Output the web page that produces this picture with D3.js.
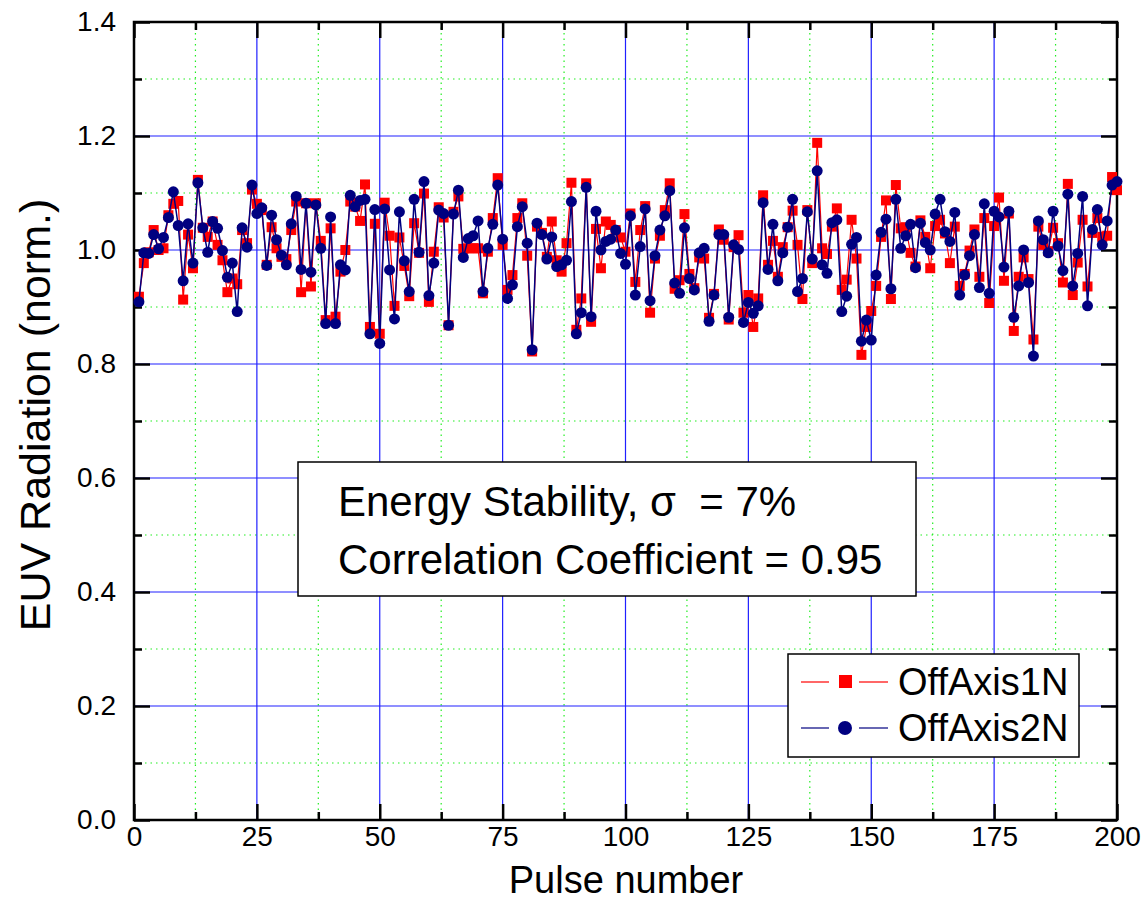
<!DOCTYPE html>
<html>
<head>
<meta charset="utf-8">
<script src="https://cdn.jsdelivr.net/npm/d3@7"></script>
<style>
  body { margin: 0; background: #fff; }
  svg text { font-family: "Liberation Sans", Arial, sans-serif; fill: #000; white-space: pre; }
</style>
</head>
<body>
<svg id="chart" width="1146" height="921"></svg>
<script>
// values, pulse 1..200
const offAxis1N = [
  0.918,0.977,0.996,1.035,1.000,1.003,1.061,1.081,1.086,0.913,
  1.027,0.968,1.123,1.039,1.023,1.050,1.009,0.982,0.926,0.950,
  0.940,1.035,1.012,1.106,1.081,1.070,0.974,1.040,1.003,0.988,
  0.984,1.035,1.085,0.926,1.082,0.936,1.082,1.016,0.877,1.038,
  0.883,0.962,1.000,1.085,1.076,1.051,1.115,0.865,1.046,0.853,
  1.083,1.025,0.902,1.022,0.972,0.919,1.047,0.995,1.099,0.909,
  0.997,1.075,1.057,0.868,1.067,1.094,1.002,1.003,1.003,1.003,
  0.924,0.997,1.056,1.126,1.009,0.930,0.956,1.056,1.082,0.990,
  0.822,1.041,1.030,0.988,1.050,0.982,0.962,1.012,1.118,0.860,
  0.915,1.117,0.874,1.037,0.968,1.050,1.044,1.035,1.022,0.997,
  1.064,0.944,1.035,1.077,0.890,0.985,1.025,1.070,1.117,0.932,
  0.947,1.063,0.958,0.933,0.987,0.985,0.881,0.923,1.036,1.018,
  0.878,1.005,1.026,0.890,0.921,0.865,0.915,1.096,0.974,1.016,
  0.953,1.005,1.040,1.069,1.009,0.914,1.070,0.977,1.188,1.003,
  0.993,1.041,1.073,0.930,0.948,1.053,0.985,0.816,0.865,0.893,
  0.937,1.023,1.087,0.914,1.114,1.038,1.040,0.995,0.971,1.052,
  1.023,0.968,1.042,1.053,1.029,0.977,1.041,0.937,0.958,0.999,
  1.036,0.953,1.056,0.907,1.042,1.092,0.946,1.064,0.858,0.953,
  0.987,0.949,0.843,1.041,1.009,0.998,1.039,1.012,0.943,1.116,
  0.921,0.978,1.053,0.936,1.030,1.056,1.023,1.025,1.128,1.105
];
const offAxis2N = [
  0.909,0.995,0.994,1.027,1.002,1.022,1.057,1.102,1.043,0.946,
  1.046,0.977,1.118,1.039,0.996,1.050,1.038,0.999,0.952,0.977,
  0.892,1.039,1.005,1.114,1.064,1.074,0.973,1.061,1.018,0.991,
  0.974,1.046,1.094,0.966,1.082,0.961,1.079,1.003,0.871,1.058,
  0.871,0.974,0.965,1.096,1.076,1.087,1.089,0.853,1.071,0.836,
  1.072,0.965,0.879,1.067,0.981,0.927,1.089,0.996,1.120,0.920,
  0.977,1.070,1.064,0.868,1.063,1.105,0.987,1.020,1.025,1.051,
  0.927,1.003,1.045,1.114,1.019,0.915,0.939,1.041,1.076,1.012,
  0.825,1.047,1.027,0.984,1.023,0.971,0.974,0.982,1.085,0.853,
  0.890,1.110,0.883,1.068,1.000,1.015,1.019,1.035,0.994,0.975,
  1.060,0.921,1.006,1.072,0.911,0.990,1.035,1.060,1.104,0.942,
  0.924,1.039,0.950,0.930,0.995,1.003,0.875,0.921,1.027,1.027,
  0.882,1.009,1.001,0.873,0.908,0.889,0.902,1.083,0.966,1.045,
  0.946,0.995,1.040,1.089,0.927,0.950,1.067,0.984,1.139,0.974,
  0.959,1.048,1.053,0.892,0.919,1.010,1.022,0.840,0.877,0.842,
  0.956,1.031,1.054,0.932,1.089,1.003,1.025,1.045,0.969,1.047,
  1.013,1.000,1.063,1.089,1.032,1.015,1.066,0.921,0.956,0.990,
  1.027,0.934,1.081,0.924,1.068,1.058,0.970,1.068,0.882,0.937,
  1.000,0.943,0.814,1.051,1.018,0.995,1.068,1.007,0.964,1.098,
  0.937,0.994,1.094,0.902,1.036,1.071,1.009,1.051,1.114,1.120
];
const xMajorTicks = [0, 25, 50, 75, 100, 125, 150, 175, 200];
const yMajorTicks = [0, 0.2, 0.4, 0.6, 0.8, 1.0, 1.2, 1.4];
const xMinorTicks = [12.5, 37.5, 62.5, 87.5, 112.5, 137.5, 162.5, 187.5];
const yMinorTicks = [0.1, 0.3, 0.5, 0.7, 0.9, 1.1, 1.3];
const seriesNames = ["OffAxis1N", "OffAxis2N"];
const infoLines = ["Energy Stability, \u03c3  = 7%", "Correlation Coefficient = 0.95"];

const svg = d3.select("#chart");
const plotL = 134, plotR = 1117, plotT = 22, plotB = 820;

let x = d3.scaleLinear().domain([0, 200]).range([plotL, plotR]);
let y = d3.scaleLinear().domain([0, 1.4]).range([plotB, plotT]);

// grid
let grid = svg.append("g");
grid.selectAll(".minorx").data(xMinorTicks).enter().append("line")
    .attr("x1", d => x(d)).attr("x2", d => x(d))
    .attr("y1", plotT).attr("y2", plotB)
    .style("stroke", "#22ee22").style("stroke-width", 1.2)
    .style("stroke-dasharray", "1.5,4");
grid.selectAll(".minory").data(yMinorTicks).enter().append("line")
    .attr("x1", plotL).attr("x2", plotR)
    .attr("y1", d => y(d)).attr("y2", d => y(d))
    .style("stroke", "#22ee22").style("stroke-width", 1.2)
    .style("stroke-dasharray", "1.5,4");
grid.selectAll(".majorx").data(xMajorTicks.slice(1, -1)).enter().append("line")
    .attr("x1", d => x(d)).attr("x2", d => x(d))
    .attr("y1", plotT).attr("y2", plotB)
    .style("stroke", "#2020ff").style("stroke-width", 1.2);
grid.selectAll(".majory").data(yMajorTicks.slice(1, -1)).enter().append("line")
    .attr("x1", plotL).attr("x2", plotR)
    .attr("y1", d => y(d)).attr("y2", d => y(d))
    .style("stroke", "#2020ff").style("stroke-width", 1.2);

// axes, ticks pointing inwards on all four sides
function styleAxis(g) {
    g.select(".domain").remove();
    g.selectAll(".tick line").style("stroke", "#000").style("stroke-width", 2.5);
    g.selectAll(".tick text").style("font-size", "28px");
}
svg.append("g").attr("transform", `translate(${plotL},0)`)
    .call(d3.axisLeft(y).tickValues(yMajorTicks).tickSize(-16).tickPadding(18)
        .tickFormat(d3.format(".1f")))
    .call(styleAxis);
svg.append("g").attr("transform", `translate(0,${plotB})`)
    .call(d3.axisBottom(x).tickValues(xMajorTicks).tickSize(-16).tickPadding(6))
    .call(styleAxis);
svg.append("g").attr("transform", `translate(${plotR},0)`)
    .call(d3.axisRight(y).tickValues(yMajorTicks).tickSize(-16).tickFormat(""))
    .call(styleAxis);
svg.append("g").attr("transform", `translate(0,${plotT})`)
    .call(d3.axisTop(x).tickValues(xMajorTicks).tickSize(-16).tickFormat(""))
    .call(styleAxis);
svg.append("g").attr("transform", `translate(${plotL},0)`)
    .call(d3.axisLeft(y).tickValues(yMinorTicks).tickSize(-8).tickFormat(""))
    .call(styleAxis);
svg.append("g").attr("transform", `translate(${plotR},0)`)
    .call(d3.axisRight(y).tickValues(yMinorTicks).tickSize(-8).tickFormat(""))
    .call(styleAxis);
svg.append("g").attr("transform", `translate(0,${plotB})`)
    .call(d3.axisBottom(x).tickValues(xMinorTicks).tickSize(-8).tickFormat(""))
    .call(styleAxis);
svg.append("g").attr("transform", `translate(0,${plotT})`)
    .call(d3.axisTop(x).tickValues(xMinorTicks).tickSize(-8).tickFormat(""))
    .call(styleAxis);

// frame
svg.append("rect")
    .attr("x", plotL).attr("y", plotT)
    .attr("width", plotR - plotL).attr("height", plotB - plotT)
    .style("fill", "none").style("stroke", "#000").style("stroke-width", 2.5);

// axis titles
svg.append("text")
    .attr("x", 626).attr("y", 893)
    .attr("text-anchor", "middle")
    .style("font-size", "38px")
    .text("Pulse number");
svg.append("text")
    .attr("transform", `translate(50,415) rotate(-90)`)
    .attr("text-anchor", "middle")
    .style("font-size", "43px")
    .text("EUV Radiation (norm.)");

// series
let line = d3.line()
    .x((d, i) => x(i + 1))
    .y(d => y(d));

svg.append("path")
    .datum(offAxis1N)
    .attr("fill", "none")
    .attr("stroke", "#ff0000")
    .attr("stroke-width", 1.2)
    .attr("d", line);
svg.selectAll(".sq").data(offAxis1N).enter().append("rect")
    .attr("x", (d, i) => x(i + 1) - 5)
    .attr("y", d => y(d) - 5)
    .attr("width", 10).attr("height", 10)
    .style("fill", "#ff0000");

svg.append("path")
    .datum(offAxis2N)
    .attr("fill", "none")
    .attr("stroke", "#000080")
    .attr("stroke-width", 1.5)
    .attr("d", line);
svg.selectAll(".dot").data(offAxis2N).enter().append("circle")
    .attr("cx", (d, i) => x(i + 1))
    .attr("cy", d => y(d))
    .attr("r", 5.5)
    .style("fill", "#000080");

// info box
svg.append("rect")
    .attr("x", 298).attr("y", 462)
    .attr("width", 618).attr("height", 134)
    .style("fill", "#fff").style("stroke", "#000").style("stroke-width", 1.5);
svg.selectAll(".info").data(infoLines).enter().append("text")
    .attr("x", 338)
    .attr("y", (d, i) => 516 + i * 58)
    .style("font-size", "42px")
    .text(d => d);

// legend
let legend = svg.append("g");
legend.append("rect")
    .attr("x", 788).attr("y", 654)
    .attr("width", 291).attr("height", 103)
    .style("fill", "#fff").style("stroke", "#000").style("stroke-width", 1.5);
const legendColors = ["#ff0000", "#000080"];
seriesNames.forEach((name, i) => {
    let ly = 682 + i * 46;
    legend.append("line")
        .attr("x1", 801).attr("x2", 829).attr("y1", ly).attr("y2", ly)
        .style("stroke", legendColors[i]).style("stroke-width", 1.2);
    legend.append("line")
        .attr("x1", 859).attr("x2", 888).attr("y1", ly).attr("y2", ly)
        .style("stroke", legendColors[i]).style("stroke-width", 1.2);
    if (i == 0) {
        legend.append("rect")
            .attr("x", 839).attr("y", ly - 7).attr("width", 13).attr("height", 13)
            .style("fill", legendColors[i]);
    } else {
        legend.append("circle")
            .attr("cx", 845).attr("cy", ly).attr("r", 7)
            .style("fill", legendColors[i]);
    }
    legend.append("text")
        .attr("x", 898).attr("y", ly + 13)
        .style("font-size", "38px")
        .text(name);
});
</script>
</body>
</html>
